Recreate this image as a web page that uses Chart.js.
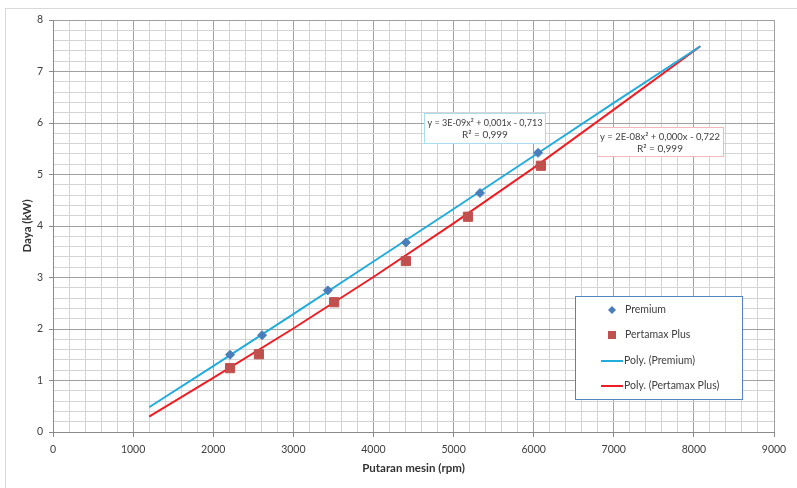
<!DOCTYPE html>
<html>
<head>
<meta charset="utf-8">
<script src="https://cdn.jsdelivr.net/npm/chart.js@4/dist/chart.umd.min.js"></script>
<style>
  body { margin: 0; background: #fff; }
  canvas { display: block; }
</style>
</head>
<body>
<canvas id="grafik" width="797" height="488"></canvas>
<script>
// data
const rpmPremium = [2210, 2610, 3430, 4405, 5330, 6055];
const dayaPremium = [1.50, 1.88, 2.75, 3.68, 4.64, 5.42];
const rpmPertamax = [2210, 2570, 3510, 4405, 5180, 6090];
const dayaPertamax = [1.24, 1.51, 2.52, 3.32, 4.18, 5.17];

// garis trend (poly)
const rpmTrend = [1200, 2000, 3000, 4000, 5000, 6000, 7000, 8080];
const trendPremium = [0.48, 1.28, 2.29, 3.31, 4.33, 5.36, 6.39, 7.49];
const trendPertamax = [0.30, 1.05, 2.01, 3.01, 4.05, 5.13, 6.26, 7.49];

const persamaanPremium = ["y = 3E-09x\u00b2 + 0,001x - 0,713", "R\u00b2 = 0,999"];
const persamaanPertamax = ["y = 2E-08x\u00b2 + 0,000x - 0,722", "R\u00b2 = 0,999"];

const pasangkan = (xs, ys) => xs.map((x, i) => ({ x: x, y: ys[i] }));
const FONT = "Lato, 'Liberation Sans', sans-serif";

const bingkai = {
  id: "bingkai",
  beforeDraw(chart) {
    const c = chart.ctx;
    c.save();
    c.fillStyle = "#fff";
    c.fillRect(0, 0, chart.width, chart.height);
    c.strokeStyle = "#d9d9d9";
    c.lineWidth = 1;
    c.strokeRect(5.5, 8.5, 900, 600);
    c.restore();
  }
};

function kotakTeks(c, x, y, w, h, garis, baris, cx) {
  c.fillStyle = "#fff";
  c.fillRect(x, y, w, h);
  c.strokeStyle = garis;
  c.lineWidth = 1;
  c.strokeRect(x + 0.5, y + 0.5, w, h);
  c.fillStyle = "#404040";
  c.font = "10px " + FONT;
  c.textAlign = "center";
  c.textBaseline = "middle";
  c.fillText(baris[0], cx, y + 9.5, w - 6);
  c.fillText(baris[1], cx, y + 21.5, w - 6);
}

const keterangan = {
  id: "keterangan",
  afterDraw(chart) {
    const c = chart.ctx;
    const sx = chart.scales.x, sy = chart.scales.y;
    c.save();

    // kotak persamaan
    const bx = sx.getPixelForValue(4630), by = sy.getPixelForValue(6.19);
    kotakTeks(c, Math.round(bx), Math.round(by), 121, 30, "#a9dcee", persamaanPremium, bx + 61);
    const rx = sx.getPixelForValue(6790), ry = sy.getPixelForValue(5.92);
    kotakTeks(c, Math.round(rx), Math.round(ry), 126, 29, "#f3b8b8", persamaanPertamax, rx + 63);

    // legenda
    const L = 575, T = 296, W = 167, H = 103;
    c.fillStyle = "#fff";
    c.fillRect(L, T, W, H);
    c.strokeStyle = "#4f86c0";
    c.strokeRect(L + 0.5, T + 0.5, W, H);
    c.font = "10.5px " + FONT;
    c.textAlign = "left";
    c.textBaseline = "middle";
    const ds = chart.data.datasets;
    const ys = [310, 335, 361, 386];
    ds.forEach((d, i) => {
      const y = ys[i];
      if (d.showLine) {
        c.strokeStyle = d.borderColor;
        c.lineWidth = 2;
        c.beginPath();
        c.moveTo(601, y);
        c.lineTo(623, y);
        c.stroke();
      } else {
        c.fillStyle = d.backgroundColor;
        c.beginPath();
        if (d.pointStyle === "rectRot") {
          c.moveTo(612, y - 4); c.lineTo(616, y); c.lineTo(612, y + 4); c.lineTo(608, y);
        } else {
          c.rect(608, y - 4, 8, 8);
        }
        c.closePath();
        c.fill();
      }
      c.fillStyle = "#404040";
      c.fillText(d.label, d.showLine ? 624 : 625, y);
    });
    c.restore();
  }
};

const isMayor = (v, langkah) => Math.abs(v / langkah - Math.round(v / langkah)) < 1e-6;

new Chart(document.getElementById("grafik"), {
  type: "scatter",
  data: {
    datasets: [
      {
        label: "Premium",
        data: pasangkan(rpmPremium, dayaPremium),
        pointStyle: "rectRot",
        pointRadius: 4.5,
        backgroundColor: "#4a7ebb",
        borderColor: "#4a7ebb",
        order: 1
      },
      {
        label: "Pertamax Plus",
        data: pasangkan(rpmPertamax, dayaPertamax),
        pointStyle: "rect",
        pointRadius: 6.5,
        backgroundColor: "#c0504d",
        borderColor: "#c0504d",
        order: 1
      },
      {
        label: "Poly. (Premium)",
        data: pasangkan(rpmTrend, trendPremium),
        showLine: true,
        pointRadius: 0,
        borderColor: "#22acdc",
        borderWidth: 2,
        order: 2
      },
      {
        label: "Poly. (Pertamax Plus)",
        data: pasangkan(rpmTrend, trendPertamax),
        showLine: true,
        pointRadius: 0,
        borderColor: "#ee1d23",
        borderWidth: 2,
        order: 2
      }
    ]
  },
  options: {
    responsive: false,
    animation: false,
    devicePixelRatio: 1,
    layout: { padding: { left: 0, right: 23, top: 20, bottom: 0 } },
    plugins: {
      legend: { display: false },
      tooltip: { enabled: false }
    },
    scales: {
      x: {
        type: "linear",
        min: 0,
        max: 9000,
        afterFit: s => { s.height = 56; },
        ticks: {
          stepSize: 200,
          autoSkip: false,
          maxRotation: 0,
          padding: 6,
          color: "#404040",
          font: { family: FONT, size: 10.5 },
          callback: v => isMayor(v, 1000) ? v : ""
        },
        grid: {
          tickLength: 5,
          color: c => c.tick && isMayor(c.tick.value, 1000) ? "#a0a0a0" : "#d4d4d4",
          tickColor: c => c.tick && isMayor(c.tick.value, 1000) ? "#8a8a8a" : "rgba(0,0,0,0)"
        },
        border: { color: "#8a8a8a" },
        title: {
          display: true,
          text: "Putaran mesin (rpm)",
          color: "#333",
          font: { family: FONT, size: 11.5, weight: "bold" },
          padding: { top: 0, bottom: 13 }
        }
      },
      y: {
        min: 0,
        max: 8,
        afterFit: s => { s.width = 53; },
        ticks: {
          stepSize: 0.2,
          autoSkip: false,
          padding: 6,
          color: "#404040",
          font: { family: FONT, size: 10.5 },
          callback: v => isMayor(v, 1) ? Math.round(v) : ""
        },
        grid: {
          tickLength: 4,
          color: c => c.tick && isMayor(c.tick.value, 1) ? "#a0a0a0" : "#d4d4d4",
          tickColor: c => c.tick && isMayor(c.tick.value, 1) ? "#8a8a8a" : "rgba(0,0,0,0)"
        },
        border: { color: "#8a8a8a" },
        title: {
          display: true,
          text: "Daya (kW)",
          color: "#333",
          font: { family: FONT, size: 11.5, weight: "bold" },
          padding: { top: 20, bottom: 0 }
        }
      }
    }
  },
  plugins: [bingkai, keterangan]
});
</script>
</body>
</html>
